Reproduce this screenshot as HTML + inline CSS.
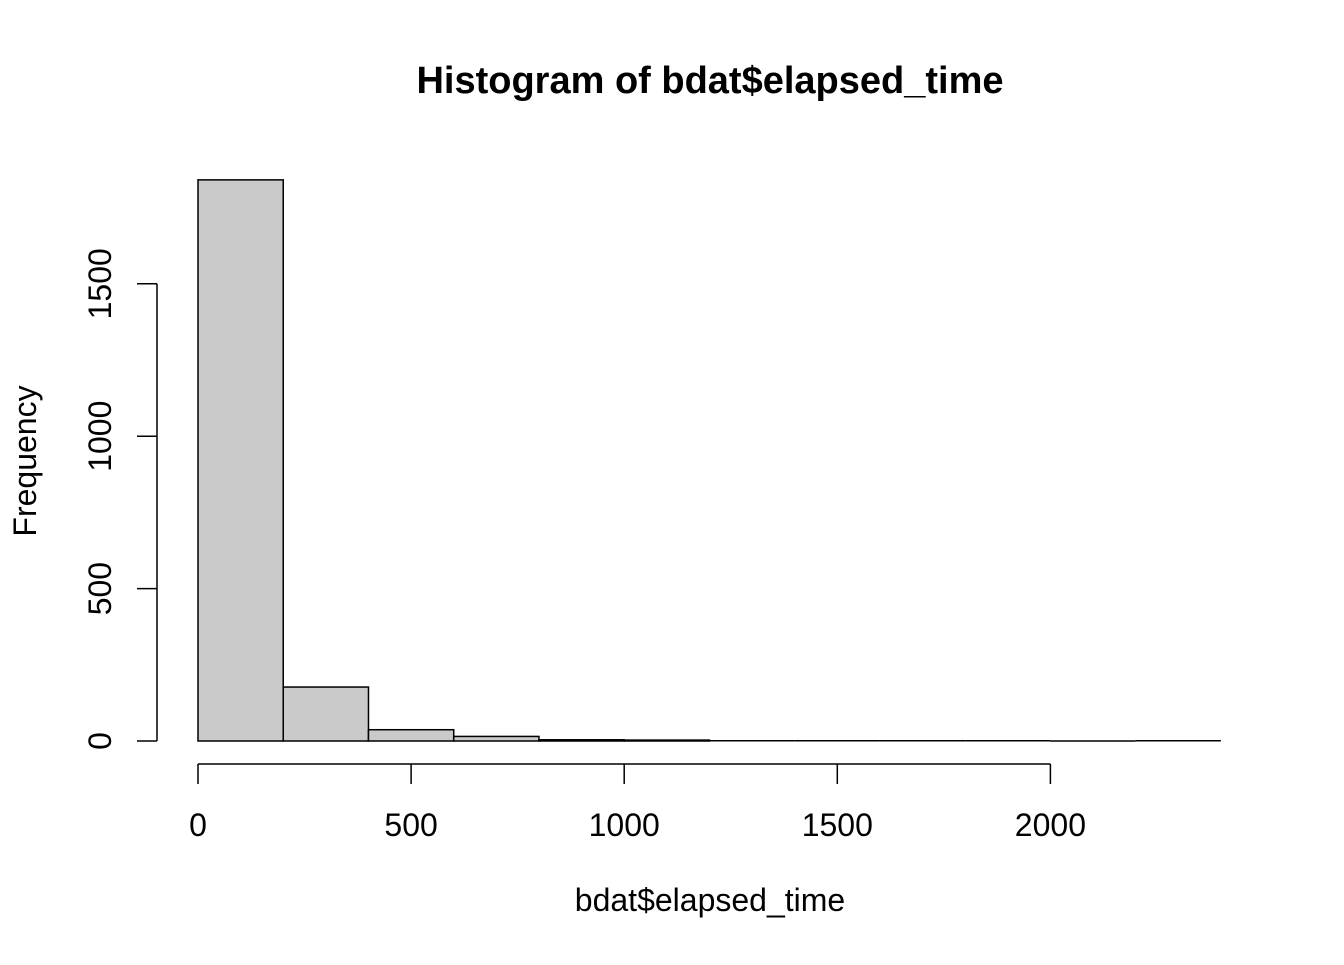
<!DOCTYPE html>
<html><head><meta charset="utf-8"><style>
body{margin:0;background:#fff}
svg text{font-family:"Liberation Sans",Arial,sans-serif;fill:#000}
</style></head><body>
<svg id="chart" width="1344" height="960">
<text x="710" y="93" text-anchor="middle" font-size="38" font-weight="bold">Histogram of bdat$elapsed_time</text>
<text x="710" y="911" text-anchor="middle" font-size="32">bdat$elapsed_time</text>
<text transform="translate(36,461) rotate(-90)" text-anchor="middle" font-size="32">Frequency</text>
<g id="bars"></g><g id="xaxis"></g><g id="yaxis"></g>
</svg>
<script>
const binStarts=[0,200,400,600,800,1000,1200,1400,1600,1800,2000,2200];
const binWidth=200;
const counts=[1841,177,37,15,4,3,1,1,1,1,0,1];
const xTicks=[0,500,1000,1500,2000];
const yTicks=[0,500,1000,1500];
const NS="http://www.w3.org/2000/svg";
const xs=v=>198+v*0.4262;
const ys=v=>741-v*0.3048;
function mk(t,a,p){const e=document.createElementNS(NS,t);for(const k in a)e.setAttribute(k,a[k]);p.appendChild(e);return e;}
const bars=document.getElementById('bars');
binStarts.forEach((b,i)=>{
  const y=ys(counts[i]);
  let r;
  if(ys(0)-y<0.5){
    r=mk('line',{x1:xs(b),x2:xs(b+binWidth),y1:y,y2:y,stroke:'#000','stroke-width':1.5},bars);
  } else {
    r=mk('rect',{x:xs(b),y:y,width:xs(b+binWidth)-xs(b),height:ys(0)-y,fill:'#cacaca',stroke:'#000','stroke-width':1.5},bars);
  }
  
  
});
const xa=document.getElementById('xaxis');
mk('line',{x1:xs(xTicks[0]),x2:xs(xTicks[xTicks.length-1]),y1:764,y2:764,stroke:'#000','stroke-width':1.5},xa);
xTicks.forEach(t=>{
  mk('line',{x1:xs(t),x2:xs(t),y1:764,y2:784,stroke:'#000','stroke-width':1.5},xa);
  const l=mk('text',{x:xs(t),y:836,'text-anchor':'middle','font-size':32},xa);l.textContent=t;
  
  
});
const ya=document.getElementById('yaxis');
mk('line',{x1:157,x2:157,y1:ys(yTicks[0]),y2:ys(yTicks[yTicks.length-1]),stroke:'#000','stroke-width':1.5},ya);
yTicks.forEach(t=>{
  mk('line',{x1:137,x2:157,y1:ys(t),y2:ys(t),stroke:'#000','stroke-width':1.5},ya);
  const l=mk('text',{transform:`translate(111,${ys(t)}) rotate(-90)`,'text-anchor':'middle','font-size':32},ya);l.textContent=t;
  
  
});
</script>
</body></html>
